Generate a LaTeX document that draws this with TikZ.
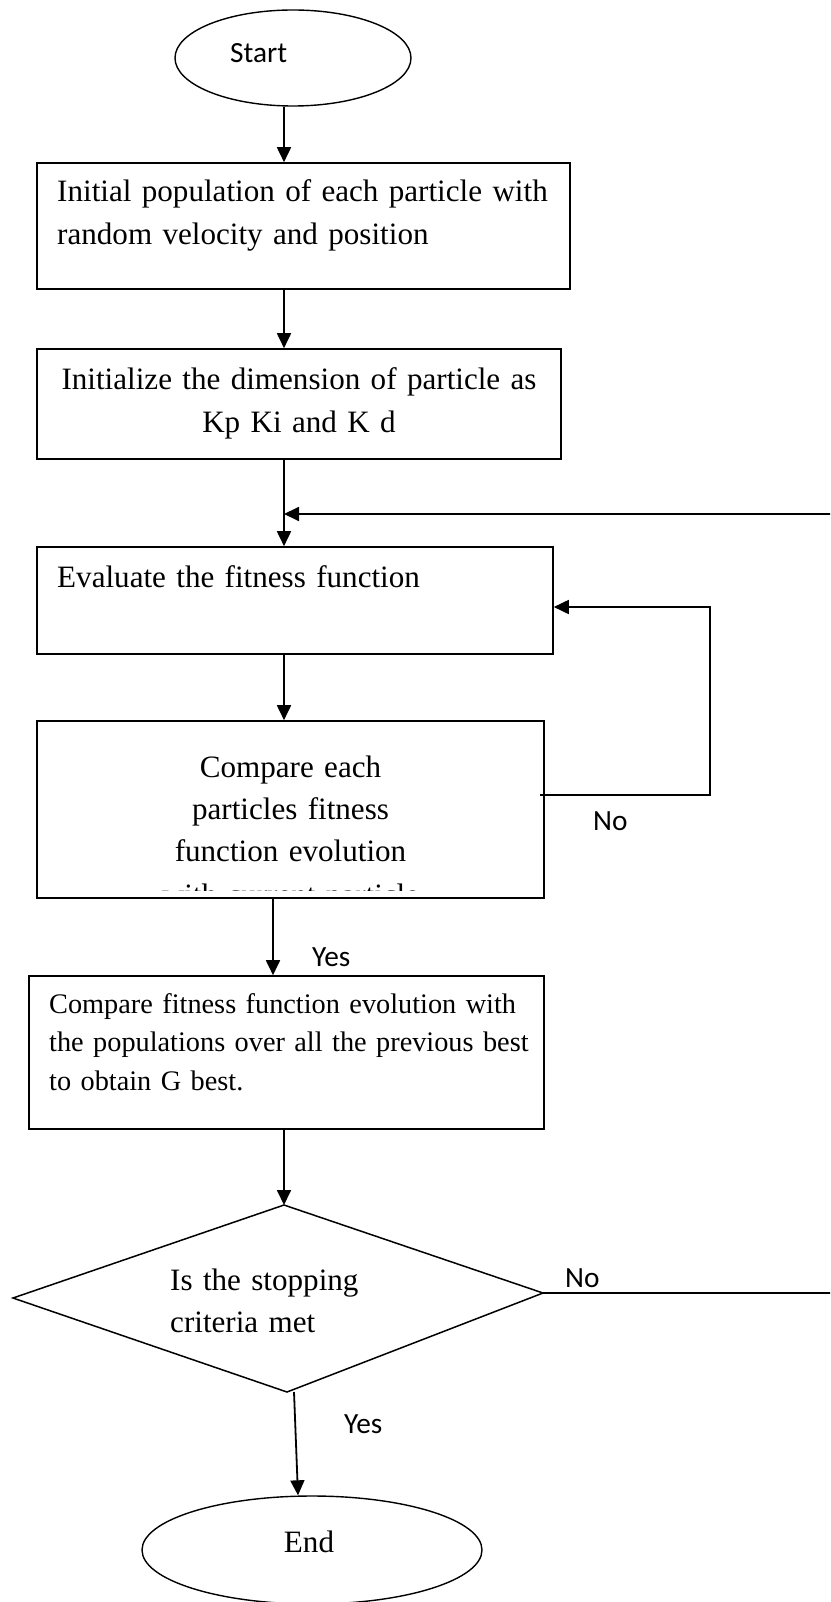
\documentclass[tikz,border=0pt]{standalone}
\usepackage{fontspec}
\setmainfont{Liberation Serif}
\newfontfamily\labelsans{Carlito}
\usetikzlibrary{arrows.meta,calc,shapes.geometric}

\tikzset{
  x=1pt, y=1pt,
  flow/.style={line width=1.8pt},
  arr/.style={flow, -{Triangle[length=15pt,width=14pt]}},
  box/.style={draw, line width=1.6pt, rectangle, inner sep=0pt},
  term/.style={draw, line width=1.4pt, ellipse, inner sep=0pt},
  bodytext/.style={font=\fontsize{31.1}{43}\selectfont, inner sep=0pt},
  tighttext/.style={font=\fontsize{31.1}{42}\selectfont, inner sep=0pt},
  smalltext/.style={font=\fontsize{28.3}{38.5}\selectfont, inner sep=0pt},
  tag/.style={font=\labelsans\fontsize{29.3}{34}\selectfont, inner sep=0pt, anchor=base west},
}

\begin{document}
\begin{tikzpicture}
\useasboundingbox (0,0) rectangle (830,-1602);
\clip (0,0) rectangle (830,-1602);

% terminals
\node[term, minimum width=236pt, minimum height=96pt] (start) at (293,-58) {};
\node[tag] (starttxt) at (230,-63) {Start};

\node[term, minimum width=340pt, minimum height=108pt] (end) at (312,-1550) {};
\node[bodytext, anchor=base] (endtxt) at (309,-1552) {End};

% process boxes
\node[box, minimum width=533pt, minimum height=126pt] (box1) at (303.5,-226) {};
\node[bodytext, anchor=base west, text width=520pt, align=left] (box1txt) at (57,-202)
  {Initial population of each particle with\\random velocity and position};

\node[box, minimum width=524pt, minimum height=110pt] (box2) at (299,-404) {};
\node[bodytext, anchor=base, text width=520pt, align=center] (box2txt) at (299,-389)
  {Initialize the dimension of particle as\\Kp Ki and K d};

\node[box, minimum width=516pt, minimum height=107pt] (box3) at (295,-600.5) {};
\node[bodytext, anchor=base west, text width=480pt, align=left] (box3txt) at (57,-587)
  {Evaluate the fitness function};

\node[box, minimum width=507pt, minimum height=177pt] (box4) at (290.5,-809.5) {};
\begin{scope}
  % the last line of this box is cut off by its text area
  \clip (37,-721) rectangle (544,-890);
  \node[tighttext, anchor=base, text width=480pt, align=center] (box4txt) at (290.5,-777)
    {Compare each\\particles fitness\\function evolution\\[2pt]with current particle};
\end{scope}

\node[box, minimum width=515pt, minimum height=153pt] (box5) at (286.5,-1052.5) {};
\node[smalltext, anchor=base west, text width=505pt, align=left] (box5txt) at (49,-1013)
  {Compare fitness function evolution with\\the populations over all the previous best\\to obtain G best.};

% decision
\coordinate (dT) at (284,-1205);
\coordinate (dR) at (543,-1293);
\coordinate (dB) at (287,-1392);
\coordinate (dL) at (13,-1298);
\draw[line width=1.5pt] (dT) -- (dR) -- (dB) -- (dL) -- cycle;
\node[tighttext, anchor=base west, text width=300pt, align=left] (dtxt) at (170,-1290)
  {Is the stopping\\criteria met};

% main column connectors
\coordinate (col) at (284,0);
\coordinate (colb) at (273,0);
\draw[arr] (col |- start.south) -- (col |- box1.north);
\draw[arr] (col |- box1.south) -- (col |- box2.north);
\draw[arr] (col |- box2.south) -- (col |- box3.north);
\draw[arr] (col |- box3.south) -- (col |- box4.north);
\draw[arr] (colb |- box4.south) -- (colb |- box5.north);
\draw[arr] (col |- box5.south) -- (dT);
\draw[arr] ($(dB)+(7,0)$) -- ($(end.north)+(-14,0)$);

% inner loop back to the evaluation step
\coordinate (nloop) at (540,-795);
\coordinate (nturn) at (710,-607);
\draw[arr] (nloop) -| (nturn) -- (nturn -| box3.east);

% outer loop from the decision back above the evaluation step
\coordinate (farturn) at (845,-514);
\draw[arr] (dR) -- (dR -| farturn) -- (farturn) -- (farturn -| col);

% branch labels
\node[tag] (no1) at (593,-830) {No};
\node[tag] (yes1) at (312,-966) {Yes};
\node[tag] (no2) at (565,-1287) {No};
\node[tag] (yes2) at (344,-1433) {Yes};
\end{tikzpicture}
\end{document}
